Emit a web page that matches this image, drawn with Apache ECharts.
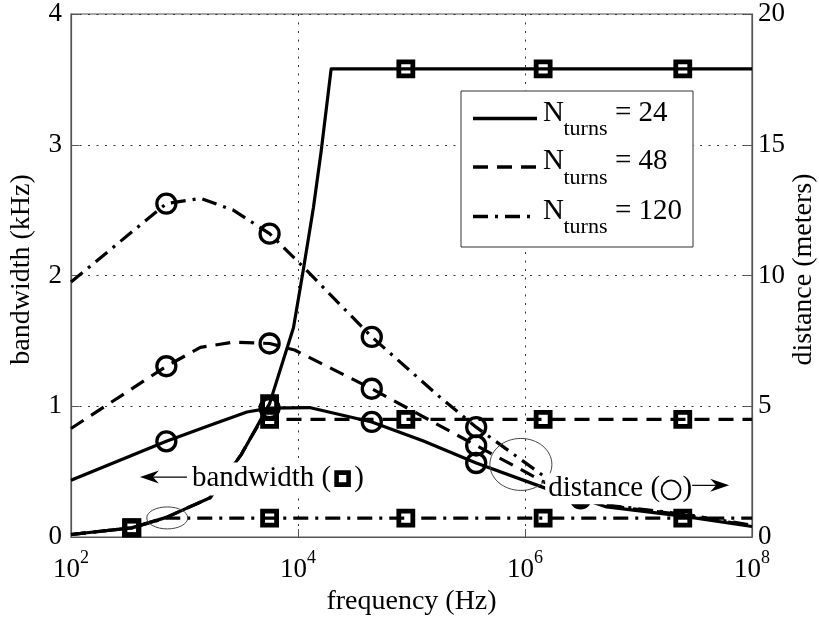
<!DOCTYPE html>
<html>
<head>
<meta charset="utf-8">
<script src="https://cdn.jsdelivr.net/npm/echarts@6/dist/echarts.min.js"></script>
<style>
  html, body { margin: 0; padding: 0; background: #fff; }
  #chart { width: 819px; height: 621px; }
</style>
</head>
<body>
<div id="chart"></div>
<script>
const FONT = '"Liberation Serif", "Times New Roman", serif';

// Axis ranges and ticks
const freqMin = 100, freqMax = 1e8;        // Hz, ticks every two decades
const bandwidthMax = 4, bandwidthStep = 1; // kHz (left axis)
const distanceMax = 20, distanceStep = 5;  // meters (right axis)

// Bandwidth (kHz) against frequency (Hz) — square markers
const bwFreq24  = [100, 343, 692, 1680, 3160, 3780, 5620, 9120, 11170, 13680, 16000, 19590, 89130, 1445000, 24550000, 100000000];
const bwVal24   = [0.019, 0.07, 0.15, 0.30, 0.63, 0.75, 1.02, 1.60, 2.05, 2.52, 2.95, 3.58, 3.58, 3.58, 3.58, 3.58];
const bwFreq48  = [100, 343, 692, 1680, 3160, 3780, 4790, 5620, 89130, 1445000, 24550000, 100000000];
const bwVal48   = [0.019, 0.07, 0.15, 0.30, 0.63, 0.75, 0.90, 0.90, 0.90, 0.90, 0.90, 0.90];
const bwFreq120 = [100, 343, 692, 5620, 89130, 1445000, 24550000, 100000000];
const bwVal120  = [0.019, 0.07, 0.145, 0.145, 0.145, 0.145, 0.145, 0.145];
const squareFreqs = [343, 5620, 89130, 1445000, 24550000];

// Distance (meters) against frequency (Hz) — circle markers
const dFreq24  = [100, 692, 1680, 3550, 5620, 12600, 44670, 125900, 371500, 1550000, 3090000, 5250000, 24550000, 100000000];
const dVal24   = [2.17, 3.66, 4.27, 4.78, 4.93, 4.95, 4.40, 3.68, 2.83, 1.85, 1.48, 1.15, 0.80, 0.40];
const dFreq48  = [100, 692, 1380, 2690, 5620, 9330, 44670, 371500, 1550000, 3090000, 5250000, 24550000, 100000000];
const dVal48   = [4.15, 6.53, 7.25, 7.45, 7.40, 7.15, 5.67, 3.50, 2.05, 1.55, 1.20, 0.85, 0.43];
const dFreq120 = [100, 692, 1380, 2690, 5620, 10720, 44670, 177800, 371500, 1550000, 3090000, 5250000, 24550000, 100000000];
const dVal120  = [9.75, 12.75, 12.95, 12.5, 11.6, 10.4, 7.65, 5.35, 4.2, 2.25, 1.6, 1.22, 0.88, 0.45];
const circleFreqs = [692, 5620, 44670, 371500, 3090000];

// Legend entries
const turnCounts = [24, 48, 120];

const DASH = { solid: 'solid', dashed: [15, 9], dashdot: [15, 7, 3, 7] };
const styles = ['solid', 'dashed', 'dashdot'];

function buildData(freqs, vals, markFreqs) {
  return freqs.map((f, i) => {
    const item = { value: [f, vals[i]] };
    if (markFreqs.indexOf(f) < 0) item.symbol = 'none';
    return item;
  });
}

function bwSeries(freqs, vals, style) {
  return {
    type: 'line', xAxisIndex: 0, yAxisIndex: 0,
    data: buildData(freqs, vals, squareFreqs),
    symbol: 'rect', symbolSize: 14, showSymbol: true, showAllSymbol: true,
    itemStyle: { color: 'rgba(0,0,0,0)', borderColor: '#000', borderWidth: 4.8 },
    lineStyle: { color: '#000', width: 3.2, type: DASH[style], cap: 'butt', join: 'round' },
    emphasis: { disabled: true }, z: 3
  };
}
function distSeries(freqs, vals, style) {
  return {
    type: 'line', xAxisIndex: 0, yAxisIndex: 1,
    data: buildData(freqs, vals, circleFreqs),
    symbol: 'circle', symbolSize: 19, showSymbol: true, showAllSymbol: true,
    itemStyle: { color: 'rgba(0,0,0,0)', borderColor: '#000', borderWidth: 3.3 },
    lineStyle: { color: '#000', width: 3.2, type: DASH[style], cap: 'butt', join: 'round' },
    emphasis: { disabled: true }, z: 3
  };
}

const gridLine = { show: true, lineStyle: { color: '#333', width: 1, type: [2, 6.5] } };
const frameColor = '#555';

const option = {
  animation: false,
  backgroundColor: '#fff',
  grid: {
    left: 71, right: 67, top: 14, bottom: 84,
    containLabel: false, outerBoundsMode: 'none',
    show: true, borderColor: frameColor, borderWidth: 1.2, backgroundColor: 'rgba(0,0,0,0)'
  },
  xAxis: {
    type: 'log', logBase: 10, min: freqMin, max: freqMax, interval: 2,
    name: 'frequency (Hz)', nameLocation: 'middle', nameGap: 51, nameMoveOverlap: false,
    nameTextStyle: { fontFamily: FONT, fontSize: 28, color: '#000' },
    axisLine: { show: true, lineStyle: { color: frameColor, width: 1.2 } },
    axisTick: { show: true, inside: true, length: 8, lineStyle: { color: frameColor } },
    splitLine: gridLine,
    minorTick: { show: false }, minorSplitLine: { show: false },
    axisLabel: {
      margin: 12, showMinLabel: true, showMaxLabel: true,
      formatter: v => '{b|10}{e|' + Math.round(Math.log10(v)) + '}',
      rich: {
        b: { fontFamily: FONT, fontSize: 27, color: '#000', lineHeight: 34, verticalAlign: 'bottom' },
        e: { fontFamily: FONT, fontSize: 18, color: '#000', lineHeight: 18, verticalAlign: 'top' }
      }
    }
  },
  yAxis: [
    {
      type: 'value', position: 'left', min: 0, max: bandwidthMax, interval: bandwidthStep,
      name: 'bandwidth (kHz)', nameLocation: 'middle', nameGap: 35, nameRotate: 90, nameMoveOverlap: false,
      nameTextStyle: { fontFamily: FONT, fontSize: 28, color: '#000', padding: [0, 0, 0, 12] },
      axisLine: { show: true, lineStyle: { color: frameColor, width: 1.2 } },
      axisTick: { show: true, inside: true, length: 8, lineStyle: { color: frameColor } },
      splitLine: gridLine,
      axisLabel: { fontFamily: FONT, fontSize: 27, color: '#000', margin: 9 }
    },
    {
      type: 'value', position: 'right', min: 0, max: distanceMax, interval: distanceStep,
      name: 'distance (meters)', nameLocation: 'middle', nameGap: 38, nameRotate: 90, nameMoveOverlap: false,
      nameTextStyle: { fontFamily: FONT, fontSize: 28, color: '#000', padding: [0, 0, 0, 12] },
      axisLine: { show: true, lineStyle: { color: frameColor, width: 1.2 } },
      axisTick: { show: true, inside: true, length: 8, lineStyle: { color: frameColor } },
      splitLine: { show: false },
      axisLabel: { fontFamily: FONT, fontSize: 27, color: '#000', margin: 6 }
    }
  ],
  series: [
    bwSeries(bwFreq24, bwVal24, 'solid'),
    bwSeries(bwFreq48, bwVal48, 'dashed'),
    bwSeries(bwFreq120, bwVal120, 'dashdot'),
    distSeries(dFreq24, dVal24, 'solid'),
    distSeries(dFreq48, dVal48, 'dashed'),
    distSeries(dFreq120, dVal120, 'dashdot')
  ]
};

const chart = echarts.init(document.getElementById('chart'), null, { renderer: 'canvas' });
chart.setOption(option);

// Annotation anchors, in (frequency Hz, bandwidth kHz)
const bandwidthArrowTip = [405, 0.458];
const distanceLabelStart = [1600000, 0.372];
const ellipseLow = [705, 0.146];
const ellipseHigh = [920000, 0.555];

const toPx = p => chart.convertToPixel({ xAxisIndex: 0, yAxisIndex: 0 }, p);
const measureCtx = document.createElement('canvas').getContext('2d');
function textWidth(s, size) {
  measureCtx.font = size + 'px ' + FONT;
  return measureCtx.measureText(s).width;
}

const LABEL_SIZE = 29;
const graphics = [];

// Encircled groups of curves
const e1 = toPx(ellipseLow), e2 = toPx(ellipseHigh);
graphics.push({ type: 'ellipse', z: 50, shape: { cx: e1[0], cy: e1[1], rx: 20.5, ry: 11 }, style: { fill: null, stroke: '#444', lineWidth: 1 } });
graphics.push({ type: 'ellipse', z: 50, shape: { cx: e2[0], cy: e2[1], rx: 31, ry: 26 }, style: { fill: null, stroke: '#444', lineWidth: 1 } });

function leftArrow(tipX, y, len) {
  graphics.push({ type: 'line', z: 100, shape: { x1: tipX + 10, y1: y, x2: tipX + len, y2: y }, style: { stroke: '#000', lineWidth: 1.2 } });
  graphics.push({ type: 'polygon', z: 100, shape: { points: [[tipX, y], [tipX + 19, y - 6.5], [tipX + 13, y], [tipX + 19, y + 6.5]] }, style: { fill: '#000' } });
}
function rightArrow(tipX, y, len) {
  graphics.push({ type: 'line', z: 100, shape: { x1: tipX - len, y1: y, x2: tipX - 10, y2: y }, style: { stroke: '#000', lineWidth: 1.2 } });
  graphics.push({ type: 'polygon', z: 100, shape: { points: [[tipX, y], [tipX - 19, y - 6.5], [tipX - 13, y], [tipX - 19, y + 6.5]] }, style: { fill: '#000' } });
}
function labelText(x, y, s) {
  graphics.push({ type: 'text', z: 100, x: x, y: y, style: { text: s, fontFamily: FONT, fontSize: LABEL_SIZE, fill: '#000', verticalAlign: 'middle', align: 'left' } });
}

// "bandwidth (■)" pointing to the left axis
const bt = toPx(bandwidthArrowTip);
leftArrow(bt[0], bt[1], 47);
{
  const x0 = bt[0] + 52, yc = bt[1] + 1.5;
  const w1 = textWidth('bandwidth (', LABEL_SIZE);
  const sqX = x0 + w1 + 3;
  const w2 = textWidth(')', LABEL_SIZE);
  const total = w1 + 3 + 17 + 3 + w2;
  graphics.push({ type: 'rect', z: 98, shape: { x: x0 - 3, y: yc - 16, width: total + 6, height: 33 }, style: { fill: '#fff' } });
  labelText(x0, yc, 'bandwidth (');
  graphics.push({ type: 'rect', z: 100, shape: { x: sqX + 2.3, y: yc - 6, width: 12, height: 12 }, style: { fill: '#fff', stroke: '#000', lineWidth: 4.6 } });
  labelText(sqX + 20, yc, ')');
}

// "distance (○)" pointing to the right axis
const dl = toPx(distanceLabelStart);
{
  const x0 = dl[0], yc = dl[1];
  const w1 = textWidth('distance (', LABEL_SIZE);
  const cx = x0 + w1 + 11;
  const w2 = textWidth(')', LABEL_SIZE);
  const total = w1 + 22 + w2;
  graphics.push({ type: 'rect', z: 98, shape: { x: x0 - 3, y: yc - 15, width: total + 6, height: 31 }, style: { fill: '#fff' } });
  labelText(x0, yc, 'distance (');
  graphics.push({ type: 'circle', z: 100, shape: { cx: cx, cy: yc + 1.5, r: 9.5 }, style: { fill: null, stroke: '#000', lineWidth: 1.8 } });
  labelText(cx + 11.5, yc, ')');
  rightArrow(x0 + 181, yc - 3, 37);
}

// Legend box
const legend = { x: 461, y: 91, w: 232, h: 156, rows: [118.5, 167, 216.5] };
graphics.push({ type: 'rect', z: 90, shape: { x: legend.x, y: legend.y, width: legend.w, height: legend.h }, style: { fill: '#fff', stroke: '#333', lineWidth: 1 } });
turnCounts.forEach((n, i) => {
  const ry = legend.rows[i];
  const dash = DASH[styles[i]];
  graphics.push({ type: 'line', z: 95, shape: { x1: legend.x + 12, y1: ry, x2: legend.x + 76, y2: ry }, style: { stroke: '#000', lineWidth: 3.6, lineDash: dash === 'solid' ? null : dash, lineCap: 'butt' } });
  graphics.push({ type: 'text', z: 95, x: legend.x + 82, y: ry - 5.5, style: { text: 'N', fontFamily: FONT, fontSize: 29, fill: '#000', verticalAlign: 'middle' } });
  graphics.push({ type: 'text', z: 95, x: legend.x + 102.5, y: ry + 11, style: { text: 'turns', fontFamily: FONT, fontSize: 22, fill: '#000', verticalAlign: 'middle' } });
  graphics.push({ type: 'text', z: 95, x: legend.x + 154, y: ry - 5.5, style: { text: '= ' + n, fontFamily: FONT, fontSize: 29, fill: '#000', verticalAlign: 'middle' } });
});

chart.setOption({ graphic: graphics });
</script>
</body>
</html>
